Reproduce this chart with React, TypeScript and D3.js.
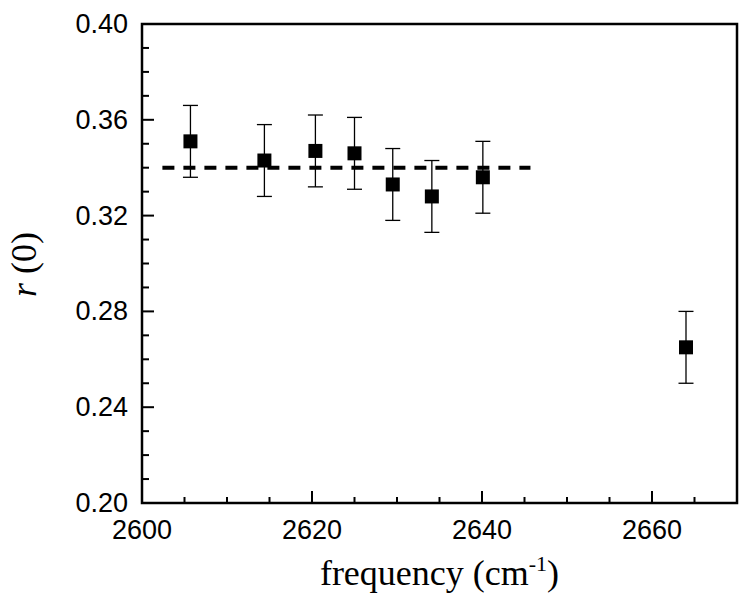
import React, { useEffect, useRef } from 'react';
import * as d3 from 'd3';

const frequency = [2605.7, 2614.4, 2620.4, 2625.0, 2629.5, 2634.1, 2640.1, 2664.0];
const r0 = [0.351, 0.343, 0.347, 0.346, 0.333, 0.328, 0.336, 0.265];
const r0Err = [0.015, 0.015, 0.015, 0.015, 0.015, 0.015, 0.015, 0.015];
const fitLevel = 0.34;
const fitRange = [2602.4, 2645.7];
const xTicks = [2600, 2620, 2640, 2660];
const yTicks = [0.2, 0.24, 0.28, 0.32, 0.36, 0.4];

const W = 743;
const H = 606;
const margin = { left: 142, right: 6, top: 24, bottom: 103 };

const App = () => {
  const ref = useRef<SVGSVGElement>(null);

  useEffect(() => {
    const svg = d3.select(ref.current);
    svg.selectAll('*').remove();

    const x = d3.scaleLinear().domain([2600, 2670]).range([margin.left, W - margin.right]);
    const y = d3.scaleLinear().domain([0.2, 0.4]).range([H - margin.bottom, margin.top]);

    const g = svg.append('g');

    // minor + major ticks, pointing inward
    const xMinor = d3.range(2600, 2670.1, 5);
    const yMinor = d3.range(0.2, 0.4001, 0.01);
    g.selectAll('.xt')
      .data(xMinor)
      .enter()
      .append('line')
      .attr('x1', d => x(d))
      .attr('x2', d => x(d))
      .attr('y1', y(0.2))
      .attr('y2', d => y(0.2) - (Math.round(d) % 20 === 0 ? 12 : 6))
      .attr('stroke', '#000')
      .attr('stroke-width', 2);
    g.selectAll('.yt')
      .data(yMinor)
      .enter()
      .append('line')
      .attr('y1', d => y(d))
      .attr('y2', d => y(d))
      .attr('x1', x(2600))
      .attr('x2', d => x(2600) + (Math.round(d * 100) % 4 === 0 ? 12 : 7))
      .attr('stroke', '#000')
      .attr('stroke-width', 2);

    // frame
    g.append('rect')
      .attr('x', x(2600))
      .attr('y', y(0.4))
      .attr('width', x(2670) - x(2600))
      .attr('height', y(0.2) - y(0.4))
      .attr('fill', 'none')
      .attr('stroke', '#000')
      .attr('stroke-width', 2.5);

    g.selectAll('.xl')
      .data(xTicks)
      .enter()
      .append('text')
      .attr('x', d => x(d))
      .attr('y', y(0.2) + 36)
      .attr('text-anchor', 'middle')
      .attr('font-family', 'Liberation Sans, Arial, sans-serif')
      .attr('font-size', 27)
      .text(d => d);
    g.selectAll('.yl')
      .data(yTicks)
      .enter()
      .append('text')
      .attr('x', x(2600) - 14)
      .attr('y', d => y(d) + 9)
      .attr('text-anchor', 'end')
      .attr('font-family', 'Liberation Sans, Arial, sans-serif')
      .attr('font-size', 27)
      .text(d => d.toFixed(2));

    // fit line
    g.append('line')
      .attr('x1', x(fitRange[0]))
      .attr('x2', x(fitRange[1]))
      .attr('y1', y(fitLevel))
      .attr('y2', y(fitLevel))
      .attr('stroke', '#000')
      .attr('stroke-width', 4)
      .attr('stroke-dasharray', '12,9');

    const pts = frequency.map((f, i) => ({ f, v: r0[i], e: r0Err[i] }));

    // error bars
    const eb = g.selectAll('.eb').data(pts).enter().append('g');
    eb.append('line')
      .attr('x1', d => x(d.f))
      .attr('x2', d => x(d.f))
      .attr('y1', d => y(d.v - d.e))
      .attr('y2', d => y(d.v + d.e))
      .attr('stroke', '#000')
      .attr('stroke-width', 1.3);
    [1, -1].forEach(s => {
      eb.append('line')
        .attr('x1', d => x(d.f) - 7.5)
        .attr('x2', d => x(d.f) + 7.5)
        .attr('y1', d => y(d.v + s * d.e))
        .attr('y2', d => y(d.v + s * d.e))
        .attr('stroke', '#000')
        .attr('stroke-width', 1.3);
    });

    g.selectAll('.pt')
      .data(pts)
      .enter()
      .append('rect')
      .attr('x', d => x(d.f) - 7)
      .attr('y', d => y(d.v) - 7)
      .attr('width', 14)
      .attr('height', 14)
      .attr('fill', '#000');

    // axis titles
    const xt = g.append('text')
      .attr('x', (x(2600) + x(2670)) / 2)
      .attr('y', 585)
      .attr('text-anchor', 'middle')
      .attr('font-family', 'Liberation Serif, Times New Roman, serif')
      .attr('font-size', 36);
    xt.append('tspan').text('frequency (cm');
    xt.append('tspan').attr('font-size', 22).attr('dy', -14).text('-1');
    xt.append('tspan').attr('dy', 14).text(')');

    const yt = g.append('text')
      .attr('transform', `translate(36, ${(y(0.2) + y(0.4)) / 2 + 1}) rotate(-90)`)
      .attr('text-anchor', 'middle')
      .attr('font-family', 'Liberation Serif, Times New Roman, serif')
      .attr('font-size', 36);
    yt.append('tspan').attr('font-style', 'italic').text('r');
    yt.append('tspan').text(' (0)');
  }, []);

  return (
    <svg ref={ref} width={W} height={H} style={{ position: 'absolute', left: 0, top: 0, background: '#fff' }}></svg>
  );
};

export default App;
